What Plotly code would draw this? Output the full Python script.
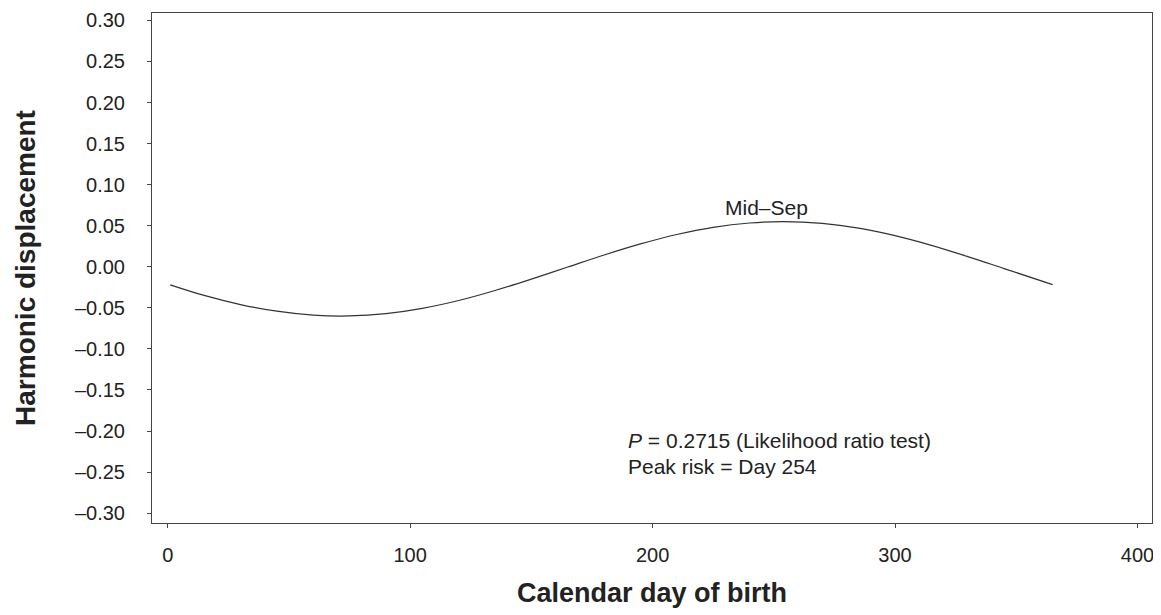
import plotly.graph_objects as go

# Calendar day of birth and harmonic displacement
days = [1, 15, 30, 45, 60, 75, 90, 105, 120, 135, 150, 165, 180, 195, 210,
        225, 240, 254, 270, 285, 300, 315, 330, 345, 365]
displacement = [-0.0220, -0.0349, -0.0460, -0.0541, -0.0589, -0.0599, -0.0571,
                -0.0507, -0.0411, -0.0289, -0.0150, -0.0003, 0.0143, 0.0278,
                0.0393, 0.0480, 0.0533, 0.0550, 0.0528, 0.0470, 0.0379, 0.0261,
                0.0124, -0.0022, -0.0217]

y_tick_vals = [0.30, 0.25, 0.20, 0.15, 0.10, 0.05, 0.00, -0.05, -0.10,
               -0.15, -0.20, -0.25, -0.30]
y_tick_text = ["0.30", "0.25", "0.20", "0.15", "0.10", "0.05", "0.00",
               "–0.05", "–0.10", "–0.15", "–0.20", "–0.25", "–0.30"]
x_tick_vals = [0, 100, 200, 300, 400]

peak_label = "Mid–Sep"
stats_lines = ["<i>P</i> = 0.2715 (Likelihood ratio test)", "Peak risk = Day 254"]

FONT = "Liberation Sans, Arial, sans-serif"
TXT = "#222222"

fig = go.Figure()
fig.add_trace(go.Scatter(
    x=days, y=displacement, mode="lines",
    line=dict(color="#333333", width=1.2, shape="spline", smoothing=1.0),
    hoverinfo="x+y", showlegend=False,
))

fig.add_annotation(x=247, y=0.0718, text=peak_label, showarrow=False,
                   xanchor="center", yanchor="middle",
                   font=dict(family=FONT, size=21, color=TXT))
fig.add_annotation(x=189, y=-0.212, xanchor="left", yanchor="middle",
                   text=stats_lines[0], showarrow=False, align="left",
                   font=dict(family=FONT, size=21, color=TXT))
fig.add_annotation(x=189, y=-0.243, xanchor="left", yanchor="middle",
                   text=stats_lines[1], showarrow=False, align="left",
                   font=dict(family=FONT, size=21, color=TXT))

# page body has an 8px margin, so the figure is offset by 8px
fig.update_layout(
    width=1153, height=607,
    margin=dict(l=144, r=9, t=5, b=92, autoexpand=False),
    paper_bgcolor="white", plot_bgcolor="white",
    font=dict(family=FONT, color=TXT, size=20),
    xaxis=dict(
        range=[-6.5, 406], tickvals=x_tick_vals,
        showgrid=False, zeroline=False,
        showline=True, mirror=True, linecolor="#444444", linewidth=1,
        ticks="outside", ticklen=4, tickcolor="#444444",
        ticklabelstandoff=10,
        tickfont=dict(family=FONT, size=20, color=TXT),
        title=dict(text="<b>Calendar day of birth</b>", standoff=18,
                   font=dict(family=FONT, size=27, color=TXT)),
    ),
    yaxis=dict(
        range=[-0.312, 0.309], tickvals=y_tick_vals, ticktext=y_tick_text,
        showgrid=False, zeroline=False,
        showline=True, mirror=True, linecolor="#444444", linewidth=1,
        ticks="outside", ticklen=4, tickcolor="#444444",
        ticklabelstandoff=18,
        tickfont=dict(family=FONT, size=20, color=TXT),
        title=dict(text="<b>Harmonic displacement</b>", standoff=31,
                   font=dict(family=FONT, size=28, color=TXT)),
    ),
)

fig.write_html("out.html")
